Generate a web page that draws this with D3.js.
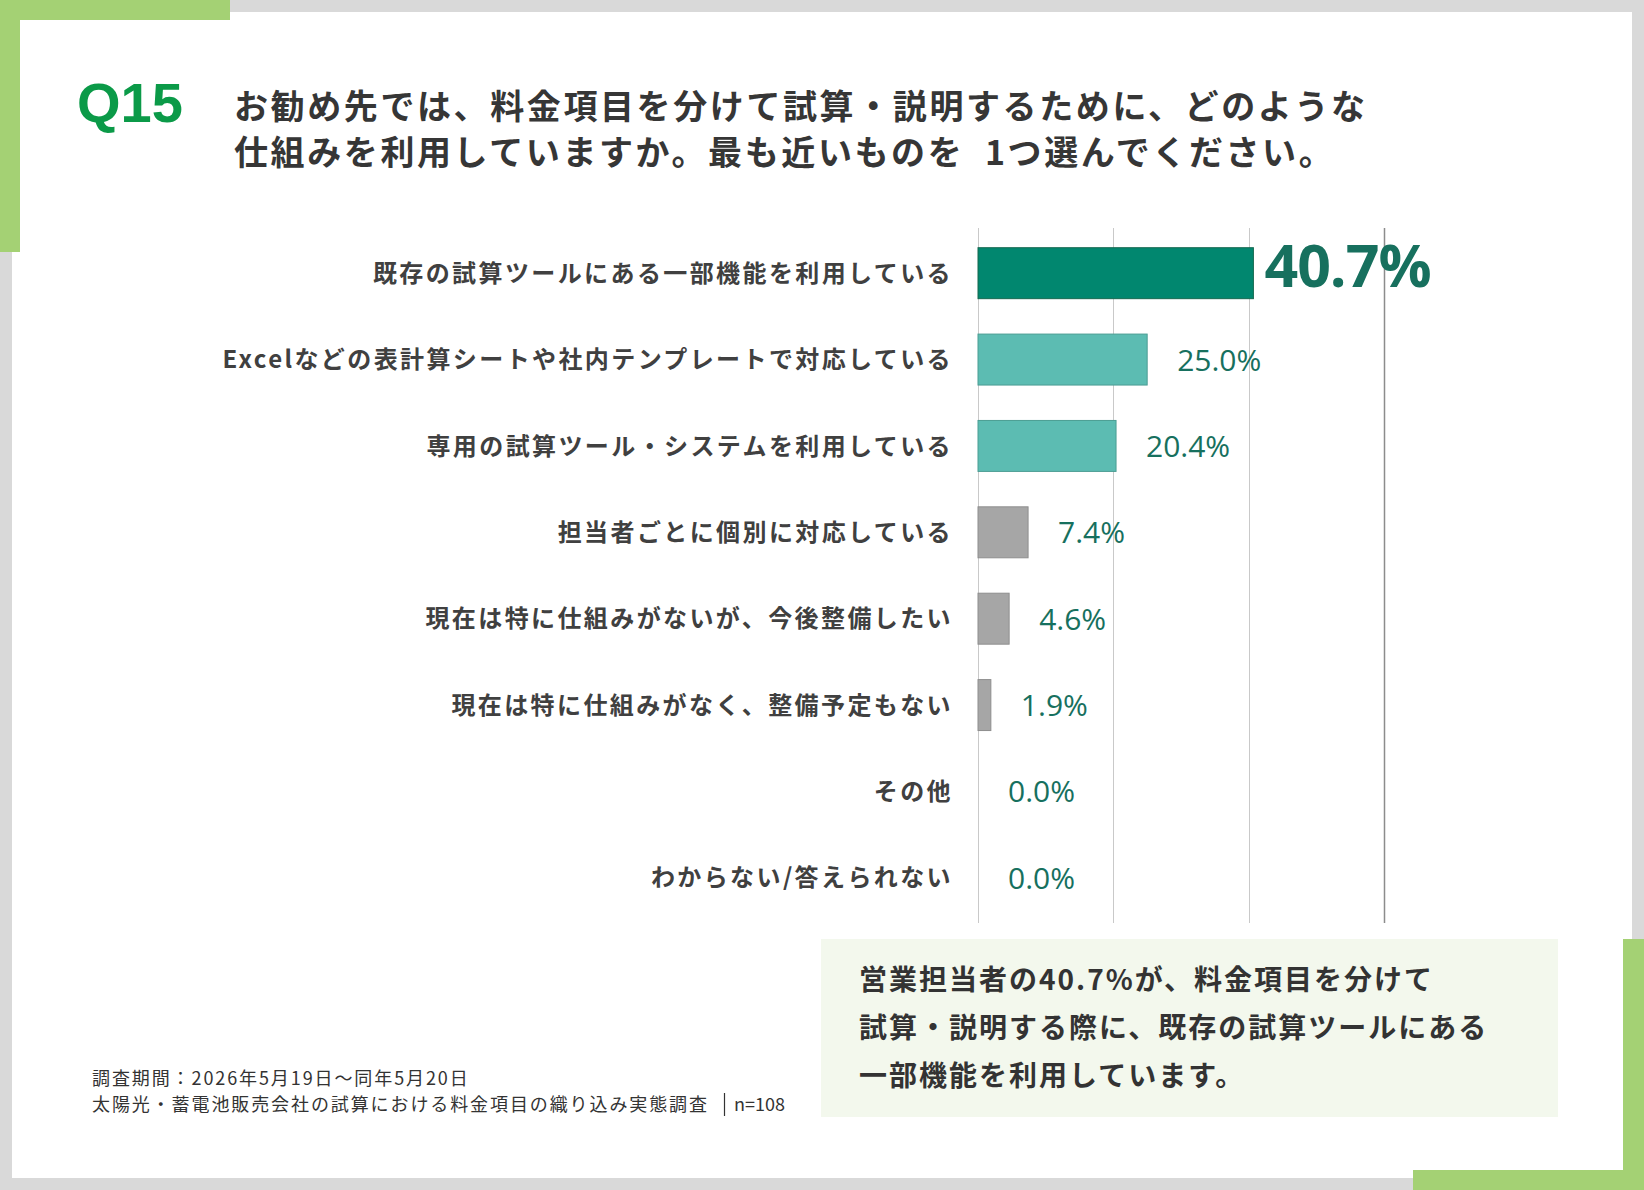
<!DOCTYPE html>
<html>
<head>
<meta charset="utf-8">
<script src="https://cdn.jsdelivr.net/npm/d3@7"></script>
<style>
  body { margin: 0; background: #fff; }
  text { font-family: "Noto Sans CJK JP", "Noto Sans", sans-serif; }
</style>
</head>
<body>
<svg id="chart"></svg>
<script>
// data
var categories = [
    "既存の試算ツールにある一部機能を利用している",
    "Excelなどの表計算シートや社内テンプレートで対応している",
    "専用の試算ツール・システムを利用している",
    "担当者ごとに個別に対応している",
    "現在は特に仕組みがないが、今後整備したい",
    "現在は特に仕組みがなく、整備予定もない",
    "その他",
    "わからない/答えられない"
];
var values = [40.7, 25.0, 20.4, 7.4, 4.6, 1.9, 0.0, 0.0];
var xTicks = [0, 20, 40, 60];

var titleLines = [
    "お勧め先では、料金項目を分けて試算・説明するために、どのような",
    "仕組みを利用していますか。最も近いものを  1つ選んでください。"
];
var noteLines = [
    "営業担当者の40.7%が、料金項目を分けて",
    "試算・説明する際に、既存の試算ツールにある",
    "一部機能を利用しています。"
];
var footLine1 = "調査期間：2026年5月19日～同年5月20日";
var footLine2 = "太陽光・蓄電池販売会社の試算における料金項目の織り込み実態調査";
var footN = "n=108";

var rows = categories.map(function(c, i) { return {name: c, value: values[i], i: i}; });

var W = 1644, H = 1190;
var svg = d3.select("#chart").attr("width", W).attr("height", H);

// frame
svg.append("rect").attr("width", W).attr("height", H).attr("fill", "#d9d9d9");
svg.append("rect").attr("x", 12).attr("y", 12)
    .attr("width", W - 24).attr("height", H - 24).attr("fill", "#fff");
var accent = "#a4d174";
svg.append("rect").attr("x", 0).attr("y", 0).attr("width", 230).attr("height", 20).attr("fill", accent);
svg.append("rect").attr("x", 0).attr("y", 0).attr("width", 20).attr("height", 252).attr("fill", accent);
svg.append("rect").attr("x", W - 21).attr("y", 939).attr("width", 21).attr("height", H - 939).attr("fill", accent);
svg.append("rect").attr("x", 1413).attr("y", H - 20).attr("width", W - 1413).attr("height", 20).attr("fill", accent);

// title
svg.append("text")
    .attr("x", 77).attr("y", 122)
    .attr("fill", "#0b9a48")
    .style("font-family", "'Liberation Sans', Arial, sans-serif")
    .style("font-weight", "bold")
    .style("font-size", "56px")
    .text("Q15");

svg.selectAll("text.title").data(titleLines).enter()
    .append("text")
    .attr("class", "title")
    .attr("x", 234)
    .attr("y", function(d, i) { return 119 + i * 46; })
    .attr("fill", "#363636")
    .style("font-weight", "bold")
    .style("font-size", "34px")
    .style("letter-spacing", "2.6px")
    .style("white-space", "pre")
    .text(function(d) { return d; });

// scales
var x = d3.scaleLinear().domain([0, 60]).range([978, 1384]);
var y = d3.scaleBand().domain(categories).range([230, 921]).paddingInner(0.41).paddingOuter(0.205);

// grid
svg.selectAll("line.grid").data(xTicks).enter()
    .append("line")
    .attr("class", "grid")
    .attr("x1", function(d) { return Math.round(x(d)) + 0.5; })
    .attr("x2", function(d) { return Math.round(x(d)) + 0.5; })
    .attr("y1", 228).attr("y2", 923)
    .attr("stroke", function(d, i) { return i == xTicks.length - 1 ? "#8c8c8c" : "#c9c9c9"; })
    .attr("stroke-width", function(d, i) { return i == xTicks.length - 1 ? 1.5 : 1; });

function barFill(d) {
    if (d.i == 0) return "#01876f";
    if (d.value >= 20) return "#5cbcb2";
    return "#a6a6a6";
}
function barStroke(d) {
    if (d.i == 0) return "#15684f";
    if (d.value >= 20) return "#4b9d93";
    return "#8e8e8e";
}

// bars
svg.selectAll("rect.bar").data(rows.filter(function(d) { return d.value > 0; })).enter()
    .append("rect")
    .attr("class", "bar")
    .attr("x", x(0))
    .attr("y", function(d) { return y(d.name); })
    .attr("height", y.bandwidth())
    .attr("width", function(d) { return x(d.value) - x(0); })
    .attr("fill", barFill)
    .attr("stroke", barStroke)
    .attr("stroke-width", 1);

// category labels
svg.selectAll("text.cat").data(rows).enter()
    .append("text")
    .attr("class", "cat")
    .attr("x", x(0) - 25)
    .attr("y", function(d) { return y(d.name) + y.bandwidth() / 2; })
    .attr("dy", "0.36em")
    .attr("text-anchor", "end")
    .attr("fill", "#404040")
    .style("font-weight", "bold")
    .style("font-size", "24px")
    .style("letter-spacing", "2.4px")
    .text(function(d) { return d.name; });

// value labels
svg.selectAll("text.val").data(rows).enter()
    .append("text")
    .attr("class", "val")
    .attr("x", function(d) { return x(d.value) + (d.i == 0 ? 11 : 30); })
    .attr("y", function(d) { return y(d.name) + y.bandwidth() / 2 + (d.i == 0 ? 14 : 11); })
    .attr("fill", "#17705e")
    .style("font-family", "'Open Sans', 'Noto Sans', sans-serif")
    .style("font-weight", function(d) { return d.i == 0 ? "bold" : "normal"; })
    .style("font-size", function(d) { return d.i == 0 ? "59px" : "30px"; })
    .style("letter-spacing", function(d) { return d.i == 0 ? "-1px" : "0px"; })
    .text(function(d) { return d.value.toFixed(1) + "%"; });

// note box
svg.append("rect").attr("x", 821).attr("y", 939).attr("width", 737).attr("height", 178).attr("fill", "#f3f8ed");
svg.selectAll("text.note").data(noteLines).enter()
    .append("text")
    .attr("class", "note")
    .attr("x", 859)
    .attr("y", function(d, i) { return 990 + i * 48; })
    .attr("fill", "#333")
    .style("font-weight", "bold")
    .style("font-size", "28px")
    .style("letter-spacing", "2px")
    .text(function(d) { return d; });

// footer
var foot = svg.append("g").attr("fill", "#333").style("font-size", "18px").style("letter-spacing", "1.9px");
foot.append("text").attr("x", 92).attr("y", 1085).text(footLine1);
foot.append("text").attr("x", 92).attr("y", 1111).text(footLine2);
svg.append("line").attr("x1", 724.5).attr("x2", 724.5).attr("y1", 1093).attr("y2", 1116)
    .attr("stroke", "#333").attr("stroke-width", 1.2);
foot.append("text").attr("x", 734).attr("y", 1111).style("letter-spacing", "0px").text(footN);
</script>
</body>
</html>
